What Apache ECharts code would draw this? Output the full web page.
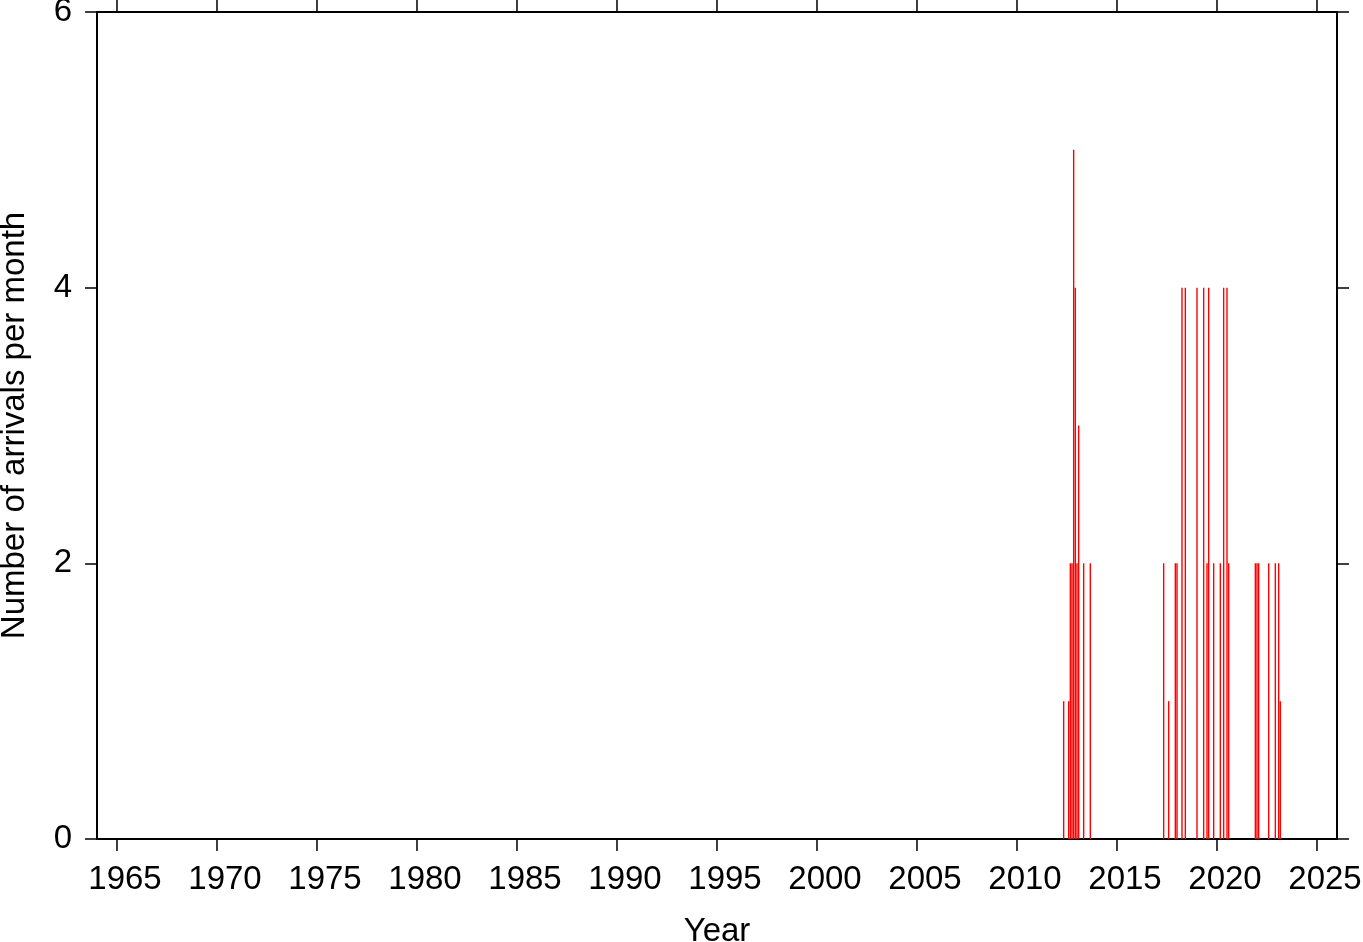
<!DOCTYPE html>
<html>
<head>
<meta charset="utf-8">
<script src="https://cdn.jsdelivr.net/npm/echarts@6/dist/echarts.min.js"></script>
<style>
html,body{margin:0;padding:0;background:#fff;}
#chart{width:1363px;height:942px;}
</style>
</head>
<body>
<div id="chart"></div>
<script>
const tickYears = [1965,1970,1975,1980,1985,1990,1995,2000,2005,2010,2015,2020,2025];
const yTicks = [0,2,4,6];
const months = [
  '2012-05','2012-08','2012-09','2012-10','2012-11','2012-12','2013-01','2013-02','2013-05','2013-09',
  '2017-05','2017-08','2017-12','2018-01','2018-04','2018-06','2019-01','2019-05','2019-07','2019-08',
  '2019-11','2020-03','2020-05','2020-07','2020-08',
  '2021-12','2022-01','2022-02','2022-08','2022-12','2023-02','2023-03'
];
const counts = [
  1,1,2,2,5,4,2,3,2,2,
  2,1,2,2,4,4,4,4,2,4,
  2,2,4,4,2,
  2,2,2,2,2,2,1
];

const data = months.map((m, i) => {
  const [y, mo] = m.split('-').map(Number);
  return [y + (mo - 1) / 12, counts[i]];
});

const FONT = 'Liberation Sans, Arial, Helvetica, sans-serif';
const FS = 33;
const chart = echarts.init(document.getElementById('chart'));
const lineStyle = {color: '#000', width: 2};
const tickStyle = {color: '#000', width: 1.5};

chart.setOption({
  animation: false,
  backgroundColor: '#fff',
  grid: {left: 97, right: 26, top: 12, bottom: 103, containLabel: false, outerBoundsMode: 'none'},
  xAxis: [
    {
      type: 'value', min: 1964, max: 2026, position: 'bottom',
      name: 'Year', nameLocation: 'middle', nameGap: 76,
      nameTextStyle: {fontFamily: FONT, fontSize: FS, color: '#000'},
      axisLine: {show: true, onZero: false, lineStyle: lineStyle},
      axisTick: {show: true, inside: false, length: 12, lineStyle: tickStyle, customValues: tickYears},
      axisLabel: {show: true, margin: 24, fontFamily: FONT, fontSize: FS, color: '#000', customValues: tickYears,
                  padding: [0, 0, 0, 16], formatter: v => String(v)},
      splitLine: {show: false}
    },
    {
      type: 'value', min: 1964, max: 2026, position: 'top',
      axisLine: {show: true, onZero: false, lineStyle: lineStyle},
      axisTick: {show: true, inside: false, length: 12, lineStyle: tickStyle, customValues: tickYears},
      axisLabel: {show: false},
      splitLine: {show: false}
    }
  ],
  yAxis: [
    {
      type: 'value', min: 0, max: 6, interval: 2, position: 'left',
      name: 'Number of arrivals per month', nameLocation: 'middle', nameGap: 66,
      nameTextStyle: {fontFamily: FONT, fontSize: FS, color: '#000'},
      axisLine: {show: true, onZero: false, lineStyle: lineStyle},
      axisTick: {show: true, inside: false, length: 12, lineStyle: tickStyle},
      axisLabel: {show: true, margin: 25, fontFamily: FONT, fontSize: FS, color: '#000',
                  formatter: v => String(v)},
      splitLine: {show: false}
    },
    {
      type: 'value', min: 0, max: 6, interval: 2, position: 'right',
      axisLine: {show: true, onZero: false, lineStyle: lineStyle},
      axisTick: {show: true, inside: false, length: 12, lineStyle: tickStyle},
      axisLabel: {show: false},
      splitLine: {show: false}
    }
  ],
  series: [
    {
      type: 'bar', xAxisIndex: 0, yAxisIndex: 0,
      data: data, barWidth: 1.4,
      itemStyle: {color: '#ff0000'},
      silent: true
    }
  ]
});
</script>
</body>
</html>
